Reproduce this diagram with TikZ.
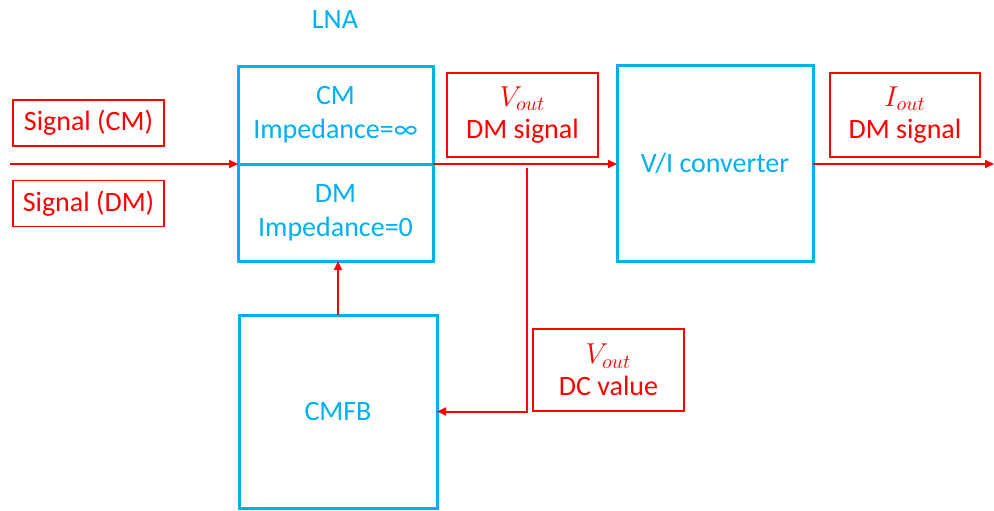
\documentclass[tikz,border=0pt]{standalone}
\usepackage{fontspec}
\setmainfont{Carlito}
\usetikzlibrary{arrows.meta}
\definecolor{pptblue}{RGB}{0,176,240}
\definecolor{pptred}{RGB}{255,0,0}
\tikzset{
    block/.style={rectangle,draw=pptblue,line width=1.5pt,text=pptblue,align=center,inner sep=0,
        outer sep=0,font=\fontsize{14}{17}\selectfont},
    tag/.style={rectangle,draw=pptred,line width=0.6pt,text=pptred,align=center,inner sep=0,
        font=\fontsize{14}{16}\selectfont},
    sig/.style={draw=pptred,line width=1pt,-{Triangle[length=4.5pt,width=4pt]}}
}
\begin{document}
\begin{tikzpicture}[x=0.5pt,y=-0.5pt]
    \useasboundingbox (0,0) rectangle (994,510);
    % LNA, split in two halves
    \node[text=pptblue,font=\fontsize{14}{16}\selectfont] (lna) at (335,20) {LNA};
    \node[block,minimum width=97.5pt,minimum height=49pt] (cmhalf) at (335.5,115) {CM\\Impedance=∞};
    \node[block,minimum width=97.5pt,minimum height=48.5pt] (dmhalf) at (335.5,212.5) {DM\\Impedance=0};
    \node[block,minimum width=98pt,minimum height=98pt] (vi) at (715,163.5) {V/I converter};
    \node[block,minimum width=99pt,minimum height=96.5pt] (cmfb) at (338,411.5) {CMFB};
    % signal labels
    \node[tag,minimum width=75.5pt,minimum height=23pt] (sigcm) at (88.5,123) {Signal (CM)};
    \node[tag,minimum width=75.5pt,minimum height=23pt] (sigdm) at (88.5,203.5) {Signal (DM)};
    \node[tag,minimum width=75.5pt,minimum height=42pt] (voutdm) at (522.5,115) {$V_{out}$\\DM signal};
    \node[tag,minimum width=75pt,minimum height=42pt] (iout) at (905,115) {$I_{out}$\\DM signal};
    \node[tag,minimum width=75.5pt,minimum height=41pt] (voutdc) at (608.5,370) {$V_{out}$\\DC value};
    % connectors
    \coordinate (in) at (10,164);
    \coordinate (out) at (994,164);
    \coordinate (tap) at (527,168);
    \draw[sig] (in) -- (cmhalf.south west);
    \draw[sig] (cmhalf.south east) -- (vi.west |- cmhalf.south east);
    \draw[sig] (vi.east |- cmhalf.south east) -- (out);
    \draw[sig] (tap) |- (cmfb.east);
    \draw[sig] (cmfb.north) -- (cmfb.north |- dmhalf.south);
\end{tikzpicture}
\end{document}
